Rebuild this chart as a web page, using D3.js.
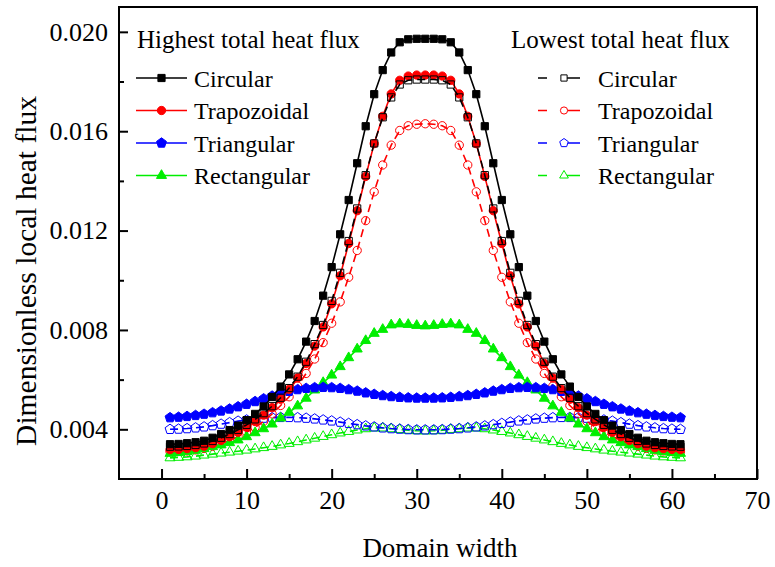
<!DOCTYPE html>
<html>
<head>
<meta charset="utf-8">
<script src="https://cdn.jsdelivr.net/npm/d3@7"></script>
<style>
  html, body { margin: 0; padding: 0; background: #fff; }
  svg { display: block; }
  svg text { font-family: "Liberation Serif", "Times New Roman", Tinos, "Nimbus Roman", "DejaVu Serif", serif !important; fill: #000; }
</style>
</head>
<body>
<svg id="chart" width="775" height="567"></svg>
<script>
// ---------------- data ----------------
const positions = [1,2,3,4,5,6,7,8,9,10,11,12,13,14,15,16,17,18,19,20,21,22,23,24,25,26,27,28,29,30,31,32,33,34,35,36,37,38,39,40,41,42,43,44,45,46,47,48,49,50,51,52,53,54,55,56,57,58,59,60,61];

const circularHigh = [0.00340,0.00341,0.00344,0.00348,0.00354,0.00366,0.00381,0.00397,0.00415,0.00437,0.00462,0.00492,0.00530,0.00572,0.00621,0.00682,0.00753,0.00836,0.00938,0.01053,0.01185,0.01323,0.01471,0.01620,0.01749,0.01846,0.01917,0.01958,0.01970,0.01972,0.01972,0.01972,0.01970,0.01958,0.01917,0.01846,0.01749,0.01620,0.01471,0.01323,0.01185,0.01053,0.00938,0.00836,0.00753,0.00682,0.00621,0.00572,0.00530,0.00492,0.00462,0.00437,0.00415,0.00397,0.00381,0.00366,0.00354,0.00348,0.00344,0.00341,0.00340];

const trapezoidalHigh = [0.00318,0.00319,0.00322,0.00326,0.00332,0.00342,0.00355,0.00370,0.00388,0.00408,0.00431,0.00457,0.00487,0.00521,0.00561,0.00607,0.00665,0.00735,0.00812,0.00905,0.01018,0.01148,0.01280,0.01418,0.01550,0.01660,0.01750,0.01805,0.01822,0.01826,0.01826,0.01826,0.01822,0.01805,0.01750,0.01660,0.01550,0.01418,0.01280,0.01148,0.01018,0.00905,0.00812,0.00735,0.00665,0.00607,0.00561,0.00521,0.00487,0.00457,0.00431,0.00408,0.00388,0.00370,0.00355,0.00342,0.00332,0.00326,0.00322,0.00319,0.00318];

const triangularHigh = [0.00447,0.00449,0.00452,0.00456,0.00461,0.00467,0.00474,0.00482,0.00491,0.00501,0.00512,0.00523,0.00534,0.00544,0.00553,0.00560,0.00565,0.00568,0.00569,0.00568,0.00565,0.00560,0.00554,0.00547,0.00541,0.00536,0.00532,0.00529,0.00527,0.00526,0.00526,0.00526,0.00527,0.00529,0.00532,0.00536,0.00541,0.00547,0.00554,0.00560,0.00565,0.00568,0.00569,0.00568,0.00565,0.00560,0.00553,0.00544,0.00534,0.00523,0.00512,0.00501,0.00491,0.00482,0.00474,0.00467,0.00461,0.00456,0.00452,0.00449,0.00447];

const rectangularHigh = [0.00303,0.00306,0.00310,0.00315,0.00322,0.00330,0.00337,0.00346,0.00357,0.00370,0.00386,0.00402,0.00421,0.00445,0.00468,0.00494,0.00525,0.00558,0.00588,0.00618,0.00652,0.00688,0.00723,0.00757,0.00786,0.00802,0.00820,0.00824,0.00822,0.00818,0.00816,0.00818,0.00822,0.00824,0.00820,0.00802,0.00786,0.00757,0.00723,0.00688,0.00652,0.00618,0.00588,0.00558,0.00525,0.00494,0.00468,0.00445,0.00421,0.00402,0.00386,0.00370,0.00357,0.00346,0.00337,0.00330,0.00322,0.00315,0.00310,0.00306,0.00303];

const circularLow = [0.00330,0.00331,0.00333,0.00337,0.00343,0.00353,0.00366,0.00381,0.00398,0.00418,0.00440,0.00465,0.00493,0.00527,0.00566,0.00612,0.00672,0.00743,0.00820,0.00917,0.01030,0.01158,0.01289,0.01423,0.01551,0.01656,0.01736,0.01788,0.01805,0.01808,0.01808,0.01808,0.01805,0.01788,0.01736,0.01656,0.01551,0.01423,0.01289,0.01158,0.01030,0.00917,0.00820,0.00743,0.00672,0.00612,0.00566,0.00527,0.00493,0.00465,0.00440,0.00418,0.00398,0.00381,0.00366,0.00353,0.00343,0.00337,0.00333,0.00331,0.00330];

const trapezoidalLow = [0.00310,0.00311,0.00313,0.00317,0.00323,0.00332,0.00343,0.00356,0.00371,0.00388,0.00408,0.00432,0.00462,0.00496,0.00531,0.00574,0.00625,0.00683,0.00749,0.00827,0.00913,0.01012,0.01120,0.01240,0.01356,0.01464,0.01544,0.01603,0.01622,0.01628,0.01630,0.01628,0.01622,0.01603,0.01544,0.01464,0.01356,0.01240,0.01120,0.01012,0.00913,0.00827,0.00749,0.00683,0.00625,0.00574,0.00531,0.00496,0.00462,0.00432,0.00408,0.00388,0.00371,0.00356,0.00343,0.00332,0.00323,0.00317,0.00313,0.00311,0.00310];

const triangularLow = [0.00400,0.00401,0.00403,0.00406,0.00410,0.00415,0.00421,0.00427,0.00433,0.00438,0.00442,0.00445,0.00447,0.00448,0.00448,0.00447,0.00445,0.00442,0.00438,0.00434,0.00429,0.00424,0.00419,0.00414,0.00410,0.00406,0.00403,0.00401,0.00399,0.00398,0.00398,0.00398,0.00399,0.00401,0.00403,0.00406,0.00410,0.00414,0.00419,0.00424,0.00429,0.00434,0.00438,0.00442,0.00445,0.00447,0.00448,0.00448,0.00447,0.00445,0.00442,0.00438,0.00433,0.00427,0.00421,0.00415,0.00410,0.00406,0.00403,0.00401,0.00400];

const rectangularLow = [0.00285,0.00287,0.00289,0.00292,0.00296,0.00300,0.00304,0.00308,0.00312,0.00316,0.00321,0.00326,0.00331,0.00337,0.00343,0.00350,0.00357,0.00364,0.00371,0.00378,0.00385,0.00391,0.00397,0.00402,0.00405,0.00405,0.00402,0.00399,0.00396,0.00394,0.00393,0.00394,0.00396,0.00399,0.00402,0.00405,0.00405,0.00402,0.00397,0.00391,0.00385,0.00378,0.00371,0.00364,0.00357,0.00350,0.00343,0.00337,0.00331,0.00326,0.00321,0.00316,0.00312,0.00308,0.00304,0.00300,0.00296,0.00292,0.00289,0.00287,0.00285];

const shapeNames = ["Circular", "Trapozoidal", "Triangular", "Rectangular"];
const xTickValues = [0, 10, 20, 30, 40, 50, 60, 70];
const xMinorTicks = [5, 15, 25, 35, 45, 55, 65];
const yTickValues = [0.004, 0.008, 0.012, 0.016, 0.020];
const yMinorTicks = [0.006, 0.010, 0.014, 0.018];
const legendTitles = ["Highest total heat flux", "Lowest total heat flux"];
const xTitle = "Domain width";
const yTitle = "Dimensionless local heat flux";

// ---------------- drawing ----------------
const FONT = '"Liberation Serif", "Times New Roman", Tinos, "Nimbus Roman", "DejaVu Serif", serif';
const svg = d3.select("#chart").attr("font-family", FONT);
const plot = { left: 119, right: 757, top: 7, bottom: 479 };

const x = d3.scaleLinear().domain([-5, 70]).range([plot.left, plot.right]);
const y = d3.scaleLinear().domain([0.002, 0.021]).range([plot.bottom, plot.top]);

const pentagon = {
  draw(ctx, size) {
    const r = Math.sqrt(size / 2.3776);
    for (let i = 0; i < 5; i++) {
      const a = -Math.PI / 2 + i * 2 * Math.PI / 5;
      const px = r * Math.cos(a), py = r * Math.sin(a);
      if (i === 0) ctx.moveTo(px, py); else ctx.lineTo(px, py);
    }
    ctx.closePath();
  }
};

const colors = ["#000000", "#ff0000", "#0000ff", "#00ee00"];
const symbols = [
  { type: d3.symbolSquare, size: 52 },
  { type: d3.symbolCircle, size: 54 },
  { type: pentagon, size: 64 },
  { type: d3.symbolTriangle, size: 44 }
];

// draw order: low first (except circular low over trapezoidal high), then highs
const order = [
  { vals: rectangularLow, i: 3, filled: false },
  { vals: triangularLow, i: 2, filled: false },
  { vals: trapezoidalLow, i: 1, filled: false },
  { vals: rectangularHigh, i: 3, filled: true },
  { vals: triangularHigh, i: 2, filled: true },
  { vals: trapezoidalHigh, i: 1, filled: true },
  { vals: circularLow, i: 0, filled: false },
  { vals: circularHigh, i: 0, filled: true }
];

const line = d3.line().x(d => x(d[0])).y(d => y(d[1]));

const gData = svg.append("g");
order.forEach(s => {
  const pts = positions.map((p, k) => [p, s.vals[k]]);
  const c = colors[s.i];
  const g = gData.append("g");
  g.append("path")
    .attr("d", line(pts))
    .attr("fill", "none")
    .attr("stroke", c)
    .attr("stroke-width", 1.6)
    .attr("stroke-dasharray", s.filled ? null : "8,5");
  const sym = d3.symbol().type(symbols[s.i].type).size(symbols[s.i].size);
  g.selectAll("path.m").data(pts).join("path")
    .attr("class", "m")
    .attr("transform", d => `translate(${x(d[0])},${y(d[1])})`)
    .attr("d", sym)
    .attr("fill", s.filled ? c : "#fff")
    .attr("fill-opacity", s.filled ? 1 : 0)
    .attr("stroke", c)
    .attr("stroke-width", 1);
});

// axes
const axisFont = "26px";
const xAxis = d3.axisBottom(x).tickValues(xTickValues).tickSizeInner(-10).tickSizeOuter(0).tickPadding(12).tickFormat(d3.format("d"));
const gx = svg.append("g").attr("transform", `translate(0,${plot.bottom})`).call(xAxis);
gx.attr("font-family", FONT);
gx.selectAll("text").style("font-size", axisFont);
gx.select(".domain").remove();
gx.selectAll("line").attr("stroke-width", 2);

const gxm = svg.append("g").attr("transform", `translate(0,${plot.bottom})`)
  .call(d3.axisBottom(x).tickValues(xMinorTicks).tickSizeInner(-5).tickSizeOuter(0).tickFormat(""));
gxm.select(".domain").remove();
gxm.selectAll("line").attr("stroke-width", 2);

const yAxis = d3.axisLeft(y).tickValues(yTickValues).tickSizeInner(-9).tickSizeOuter(0).tickPadding(11).tickFormat(d3.format(".3f"));
const gy = svg.append("g").attr("transform", `translate(${plot.left},0)`).call(yAxis);
gy.attr("font-family", FONT);
gy.selectAll("text").style("font-size", axisFont);
gy.select(".domain").remove();
gy.selectAll("line").attr("stroke-width", 2);

const gym = svg.append("g").attr("transform", `translate(${plot.left},0)`)
  .call(d3.axisLeft(y).tickValues(yMinorTicks).tickSizeInner(-5).tickSizeOuter(0).tickFormat(""));
gym.select(".domain").remove();
gym.selectAll("line").attr("stroke-width", 2);

// frame
svg.append("rect")
  .attr("x", plot.left).attr("y", plot.top)
  .attr("width", plot.right - plot.left).attr("height", plot.bottom - plot.top)
  .attr("fill", "none").attr("stroke", "#000").attr("stroke-width", 2);

// axis titles
svg.append("text")
  .attr("x", 440).attr("y", 557)
  .attr("text-anchor", "middle")
  .style("font-size", "27px")
  .text(xTitle);

svg.append("text")
  .attr("transform", "translate(36,271) rotate(-90)")
  .attr("text-anchor", "middle")
  .style("font-size", "29.5px")
  .text(yTitle);

// legends
const legendFont = "24px";
const rowY = [78, 110.5, 143, 175.5];

const lgH = svg.append("g");
lgH.append("text").attr("x", 137).attr("y", 48).style("font-size", "25px").text(legendTitles[0]);
shapeNames.forEach((name, i) => {
  const yy = rowY[i];
  lgH.append("line").attr("x1", 136).attr("x2", 187).attr("y1", yy).attr("y2", yy)
    .attr("stroke", colors[i]).attr("stroke-width", 1.6);
  lgH.append("path").attr("transform", `translate(161.5,${yy})`)
    .attr("d", d3.symbol().type(symbols[i].type).size(symbols[i].size))
    .attr("fill", colors[i]).attr("stroke", colors[i]).attr("stroke-width", 1);
  lgH.append("text").attr("x", 194).attr("y", yy + 8.5).style("font-size", legendFont).text(name);
});

const lgL = svg.append("g");
lgL.append("text").attr("x", 511).attr("y", 48).style("font-size", "25px").text(legendTitles[1]);
shapeNames.forEach((name, i) => {
  const yy = rowY[i];
  lgL.append("line").attr("x1", 538).attr("x2", 580).attr("y1", yy).attr("y2", yy)
    .attr("stroke", colors[i]).attr("stroke-width", 1.6).attr("stroke-dasharray", "9,17,20");
  lgL.append("path").attr("transform", `translate(564,${yy})`)
    .attr("d", d3.symbol().type(symbols[i].type).size(symbols[i].size * 0.75))
    .attr("fill", "#fff").attr("stroke", colors[i]).attr("stroke-width", 1);
  lgL.append("text").attr("x", 598).attr("y", yy + 8.5).style("font-size", legendFont).text(name);
});
</script>
</body>
</html>
